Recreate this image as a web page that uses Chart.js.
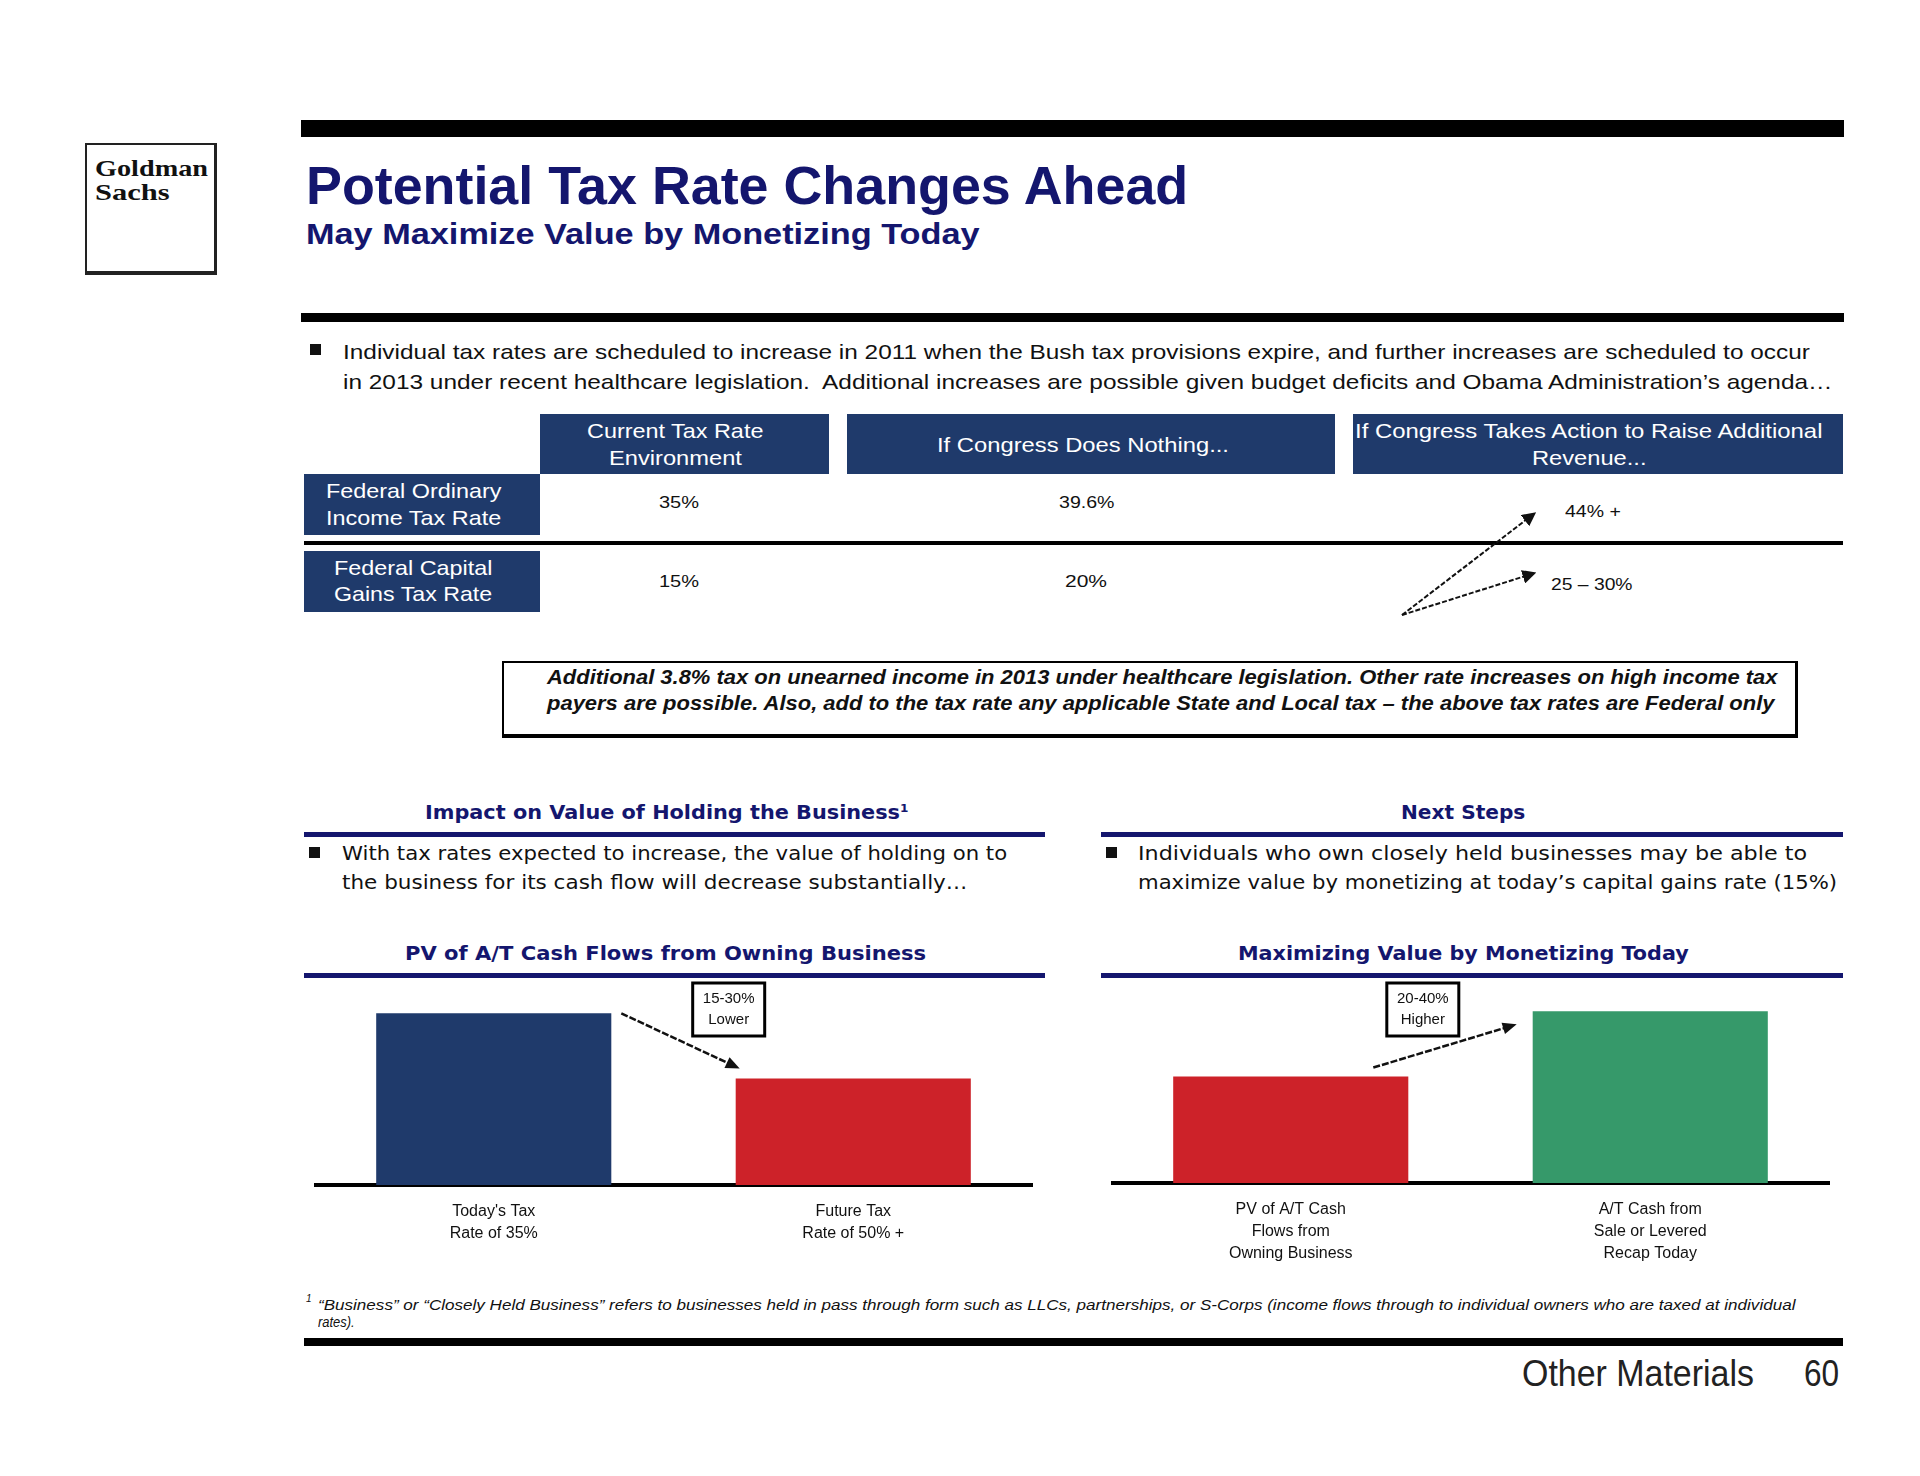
<!DOCTYPE html>
<html>
<head>
<meta charset="utf-8">
<script src="https://cdn.jsdelivr.net/npm/chart.js@4.4.0/dist/chart.umd.min.js"></script>
<style>
html, body { margin: 0; padding: 0; background: #fff; }
body { position: relative; width: 1920px; height: 1476px; overflow: hidden; font-family: 'Liberation Sans', Arial, sans-serif; }
.t { position: absolute; white-space: nowrap; line-height: 1; transform-origin: 0 0; color: #111; }
.blk { position: absolute; background: #000; }
.navy { position: absolute; background: #14166e; }
.hdr { position: absolute; background: #1f3a6b; }
.sq { position: absolute; background: #111; width: 11px; height: 11px; }
.cv { position: absolute; }
</style>
</head>
<body>

<!-- frame -->
<div class="blk" style="left:301px;top:120px;width:1543px;height:17px"></div>
<div style="position:absolute;left:85px;top:143px;width:132px;height:132px;box-sizing:border-box;border:2px solid #222;border-right-width:3px;border-bottom-width:4px"></div>
<div class="blk" style="left:301px;top:313px;width:1543px;height:9px"></div>
<div class="sq" style="left:310px;top:344px"></div>

<!-- table -->
<div class="hdr" style="left:540px;top:414px;width:289px;height:60px"></div>
<div class="hdr" style="left:847px;top:414px;width:488px;height:60px"></div>
<div class="hdr" style="left:1353px;top:414px;width:490px;height:60px"></div>
<div class="hdr" style="left:304px;top:474px;width:236px;height:61px"></div>
<div class="hdr" style="left:304px;top:551px;width:236px;height:61px"></div>
<div class="blk" style="left:304px;top:541px;width:1539px;height:4px"></div>
<svg style="position:absolute;left:0;top:0" width="1920" height="1476">
  <defs>
    <marker id="ah" viewBox="0 0 10 10" refX="9" refY="5" markerWidth="7" markerHeight="7" orient="auto">
      <path d="M0,0 L10,5 L0,10 z" fill="#111"/>
    </marker>
  </defs>
  <line x1="1402" y1="615" x2="1535" y2="513" stroke="#111" stroke-width="2" stroke-dasharray="5 2" marker-end="url(#ah)"/>
  <line x1="1402" y1="615" x2="1535" y2="573" stroke="#111" stroke-width="2" stroke-dasharray="5 2" marker-end="url(#ah)"/>
</svg>

<!-- note -->
<div style="position:absolute;left:502px;top:661px;width:1296px;height:77px;box-sizing:border-box;border:2px solid #000;border-right-width:3px;border-bottom-width:4px"></div>

<!-- lower sections -->
<div class="navy" style="left:304px;top:832px;width:741px;height:5px"></div>
<div class="navy" style="left:1101px;top:832px;width:742px;height:5px"></div>
<div class="sq" style="left:309px;top:847px"></div>
<div class="sq" style="left:1106px;top:847px"></div>
<div class="navy" style="left:304px;top:973px;width:741px;height:5px"></div>
<div class="navy" style="left:1101px;top:973px;width:742px;height:5px"></div>

<div class="cv" style="left:314px;top:979px;width:719px;height:291px"><canvas id="hold"></canvas></div>
<div class="cv" style="left:1111px;top:977px;width:719px;height:291px"><canvas id="monetize"></canvas></div>

<div class="blk" style="left:304px;top:1338px;width:1539px;height:8px"></div>

<script>
// table content
const tableColumns = [["Current Tax Rate", "Environment"], ["If Congress Does Nothing..."], ["If Congress Takes Action to Raise Additional", "Revenue..."]];
const tableRows = [["Federal Ordinary", "Income Tax Rate"], ["Federal Capital", "Gains Tax Rate"]];
const currentRates = ["35%", "15%"];
const nothingRates = ["39.6%", "20%"];
const actionRates = ["44% +", "25 – 30%"];

// bar charts (relative value)
const holdLabels = [["Today's Tax", "Rate of 35%"], ["Future Tax", "Rate of 50% +"]];
const holdValues = [100, 62];
const holdNote = ["15-30%", "Lower"];
const monetizeLabels = [["PV of A/T Cash", "Flows from", "Owning Business"], ["A/T Cash from", "Sale or Levered", "Recap Today"]];
const monetizeValues = [62, 100];
const monetizeNote = ["20-40%", "Higher"];

const NAVY = '#1f3a6b', RED = '#cd2229', GREEN = '#36996a', INK = '#14166e';

function txt(s, x, base, size, w, style) {
    const el = document.createElement('span');
    el.className = 't';
    el.innerHTML = s;
    el.style.cssText = 'left:' + x + 'px;top:' + (base - 0.85 * size) + 'px;font-size:' + size + 'px;' + (style || '');
    document.body.appendChild(el);
    if (w) el.style.transform = 'scaleX(' + (w / el.offsetWidth) + ')';
    return el;
}

const serif = "font-family:'Liberation Serif',serif;font-weight:bold;color:#111;";
const head = 'font-weight:bold;color:' + INK + ';';
const dv = "font-family:'DejaVu Sans',Verdana,sans-serif;";
const white = 'color:#fff;';

txt('Goldman', 95, 176, 24, 113, serif);
txt('Sachs', 95, 200, 24, 75, serif);
txt('Potential Tax Rate Changes Ahead', 306, 204, 54, 882, head);
txt('May Maximize Value by Monetizing Today', 306, 244, 30, 674, head);

txt('Individual tax rates are scheduled to increase in 2011 when the Bush tax provisions expire, and further increases are scheduled to occur', 343, 359, 21, 1467);
txt('in 2013 under recent healthcare legislation.&nbsp; Additional increases are possible given budget deficits and Obama Administration\u2019s agenda\u2026', 343, 389, 21, 1489);

// table headers
const hdrLines = [
    [[587, 438, 176], [609, 465, 133]],
    [[937, 452, 292]],
    [[1355, 438, 468], [1532, 465, 115]]
];
tableColumns.forEach((lines, i) => lines.forEach((s, j) => {
    const p = hdrLines[i][j];
    txt(s, p[0], p[1], 21, p[2], white);
}));
const rowLines = [[[326, 498, 176], [326, 525, 175]], [[334, 575, 158], [334, 601, 158]]];
tableRows.forEach((lines, i) => lines.forEach((s, j) => {
    const p = rowLines[i][j];
    txt(s, p[0], p[1], 21, p[2], white);
}));
const valPos = [
    [[659, 509, 40], [1059, 509, 55], [1565, 518, 56]],
    [[659, 588, 40], [1065, 588, 42], [1551, 591, 82]]
];
[0, 1].forEach(r => {
    [currentRates[r], nothingRates[r], actionRates[r]].forEach((s, c) => {
        const p = valPos[r][c];
        txt(s, p[0], p[1], 16, p[2]);
    });
});

const note = 'font-weight:bold;font-style:italic;';
txt('Additional 3.8% tax on unearned income in 2013 under healthcare legislation. Other rate increases on high income tax', 547, 684, 20, 1230, note);
txt('payers are possible. Also, add to the tax rate any applicable State and Local tax \u2013 the above tax rates are Federal only', 547, 710, 20, 1227, note);

txt('Impact on Value of Holding the Business<sup style="font-size:11px">1</sup>', 425, 819, 19, 483, dv + head);
txt('Next Steps', 1401, 819, 19, 124, dv + head);
txt('With tax rates expected to increase, the value of holding on to', 342, 860, 19, 665, dv);
txt('the business for its cash flow will decrease substantially\u2026', 342, 889, 19, 625, dv);
txt('Individuals who own closely held businesses may be able to', 1138, 860, 19, 669, dv);
txt('maximize value by monetizing at today\u2019s capital gains rate (15%)', 1138, 889, 19, 699, dv);
txt('PV of A/T Cash Flows from Owning Business', 405, 960, 19, 521, dv + head);
txt('Maximizing Value by Monetizing Today', 1238, 960, 19, 451, dv + head);

txt('1', 306, 1302, 10, 0, 'font-style:italic;');
txt('\u201cBusiness\u201d or \u201cClosely Held Business\u201d refers to businesses held in pass through form such as LLCs, partnerships, or S-Corps (income flows through to individual owners who are taxed at individual', 318, 1310, 14, 1477, 'font-style:italic;');
txt('rates).', 318, 1327, 14, 37, 'font-style:italic;');

txt('Other Materials', 1522, 1386, 37, 232, 'color:#222;');
txt('60', 1804, 1386, 37, 35, 'color:#222;');

// arrow + boxed note between the two bars
function drawArrow(ctx, x1, y1, x2, y2) {
    const a = Math.atan2(y2 - y1, x2 - x1);
    ctx.strokeStyle = '#111';
    ctx.fillStyle = '#111';
    ctx.lineWidth = 2.5;
    ctx.setLineDash([7, 2]);
    ctx.beginPath();
    ctx.moveTo(x1, y1);
    ctx.lineTo(x2 - 10 * Math.cos(a), y2 - 10 * Math.sin(a));
    ctx.stroke();
    ctx.setLineDash([]);
    ctx.beginPath();
    ctx.moveTo(x2, y2);
    ctx.lineTo(x2 - 14 * Math.cos(a) + 6 * Math.sin(a), y2 - 14 * Math.sin(a) - 6 * Math.cos(a));
    ctx.lineTo(x2 - 14 * Math.cos(a) - 6 * Math.sin(a), y2 - 14 * Math.sin(a) + 6 * Math.cos(a));
    ctx.closePath();
    ctx.fill();
}

function makeCallout(lines, geo) {
    return {
        id: 'callout',
        afterDatasetsDraw(chart) {
            const ctx = chart.ctx;
            const [b1, b2] = chart.getDatasetMeta(0).data;
            const r1 = b1.x + b1.width / 2, l2 = b2.x - b2.width / 2;
            const top = chart.chartArea.top;
            ctx.save();
            drawArrow(ctx, r1 + geo.a[0], b1.y + geo.a[1], l2 + geo.a[2], b2.y + geo.a[3]);
            const cx = (geo.boxFrom === 'r1' ? r1 : l2) + geo.bx;
            const bw = 72, bh = 53, by = top + geo.by;
            ctx.fillStyle = '#fff';
            ctx.fillRect(cx - bw / 2, by, bw, bh);
            ctx.strokeStyle = '#000';
            ctx.lineWidth = 3;
            ctx.strokeRect(cx - bw / 2, by, bw, bh);
            ctx.fillStyle = '#111';
            ctx.font = "15px 'Liberation Sans', Arial, sans-serif";
            ctx.textAlign = 'center';
            ctx.textBaseline = 'middle';
            ctx.fillText(lines[0], cx, by + 16);
            ctx.fillText(lines[1], cx, by + 37);
            ctx.restore();
        }
    };
}

function barChart(id, labels, values, colors, callout) {
    return new Chart(document.getElementById(id), {
        type: 'bar',
        data: {
            labels: labels,
            datasets: [{
                data: values,
                backgroundColor: colors,
                barPercentage: 0.654,
                categoryPercentage: 1
            }]
        },
        options: {
            responsive: true,
            maintainAspectRatio: false,
            animation: false,
            layout: { padding: 0 },
            plugins: {
                legend: { display: false },
                tooltip: { enabled: false }
            },
            scales: {
                x: {
                    grid: { display: false, drawTicks: false },
                    border: { display: true, color: '#000', width: 4 },
                    ticks: {
                        color: '#111',
                        padding: 15,
                        maxRotation: 0,
                        autoSkip: false,
                        font: { family: "'Liberation Sans', Arial, sans-serif", size: 16, lineHeight: 1.4 }
                    },
                    afterFit: s => { s.height = 85; }
                },
                y: { display: false, min: 0, max: 120 }
            }
        },
        plugins: [callout]
    });
}

barChart('hold', holdLabels, holdValues, [NAVY, RED],
    makeCallout(holdNote, { a: [10, 0, 4, -10], boxFrom: 'l2', bx: -7, by: 4 }));
barChart('monetize', monetizeLabels, monetizeValues, [RED, GREEN],
    makeCallout(monetizeNote, { a: [-35, -9, -16, 13], boxFrom: 'r1', bx: 14.5, by: 6 }));
</script>
</body>
</html>
